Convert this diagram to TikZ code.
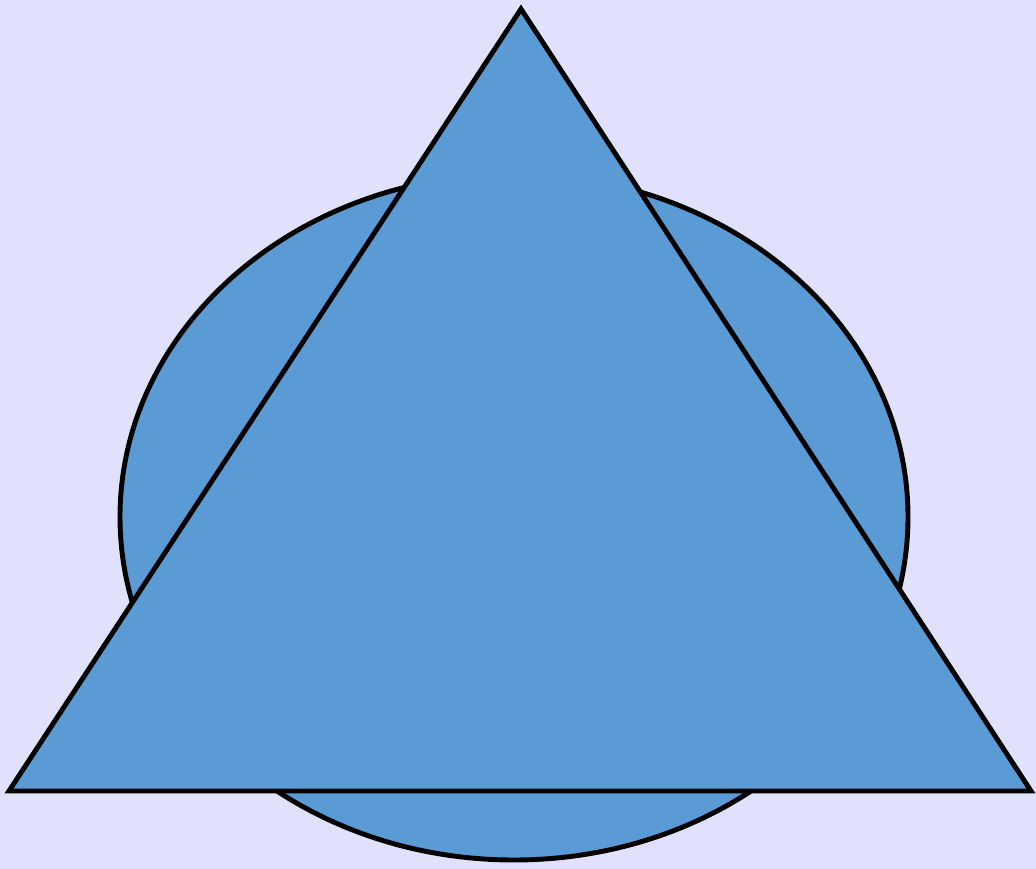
\documentclass[tikz,border=0pt]{standalone}
\usepackage{tikz}
\usepackage{xcolor}
\definecolor{bgpale}{HTML}{E1E1FE}
\definecolor{shapeblue}{HTML}{5B9BD5}
\begin{document}
\begin{tikzpicture}[x=0.1mm, y=-0.1mm,
  shp/.style={draw=black, line width=1.4pt, fill=shapeblue, line join=miter}]
\fill[bgpale] (0,0) rectangle (1036,869);
\useasboundingbox (0,0) rectangle (1036,869);
\coordinate (apex) at (521,9);
\coordinate (bl) at (9,791);
\coordinate (br) at (1031,791);
\draw[shp] (514,517) ellipse [x radius=39.4mm, y radius=34.3mm];
\draw[shp] (apex) -- (br) -- (bl) -- cycle;
\end{tikzpicture}
\end{document}
